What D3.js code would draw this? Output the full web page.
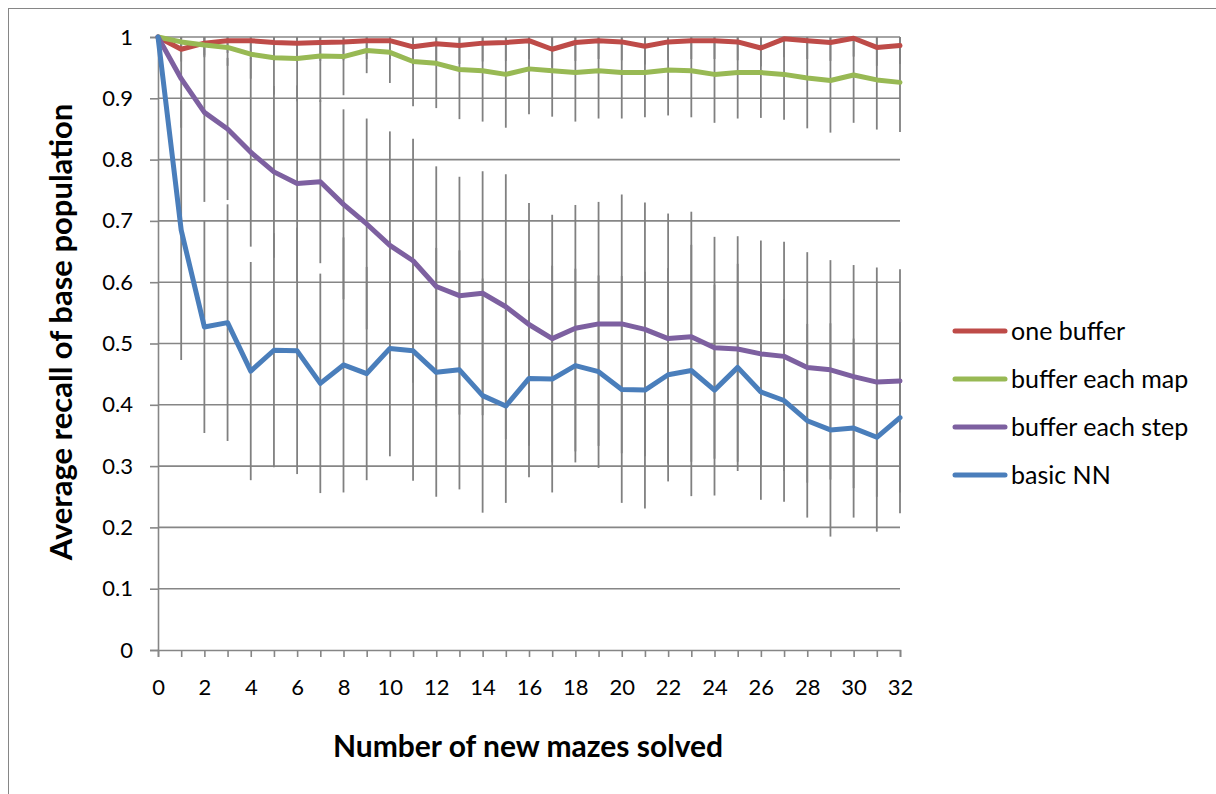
<!DOCTYPE html>
<html>
<head>
<meta charset="utf-8">
<script src="https://cdn.jsdelivr.net/npm/d3@7/dist/d3.min.js"></script>
<style>
  body { margin: 0; background: #ffffff; }
  svg { display: block; }
  text { font-family: Lato, "Open Sans", sans-serif; fill: #000; }
</style>
</head>
<body>
<svg id="chart" width="1216" height="794"></svg>
<script>
// ---------------- data ----------------
const mazesSolved = [0,1,2,3,4,5,6,7,8,9,10,11,12,13,14,15,16,17,18,19,20,21,22,23,24,25,26,27,28,29,30,31,32];

const seriesNames = ["one buffer", "buffer each map", "buffer each step", "basic NN"];
const seriesColors = ["#BE4B48", "#98B954", "#7D60A0", "#4A7EBB"];

const oneBuffer      = [1.000,0.980,0.990,0.994,0.994,0.991,0.990,0.991,0.992,0.994,0.994,0.984,0.989,0.986,0.990,0.991,0.994,0.980,0.991,0.994,0.992,0.985,0.992,0.994,0.994,0.992,0.982,0.997,0.994,0.991,0.998,0.983,0.986];
const bufferEachMap  = [1.000,0.992,0.987,0.983,0.972,0.966,0.965,0.969,0.968,0.978,0.975,0.960,0.957,0.947,0.945,0.939,0.948,0.945,0.942,0.945,0.942,0.942,0.946,0.945,0.939,0.942,0.942,0.939,0.933,0.929,0.938,0.930,0.926];
const bufferEachStep = [1.000,0.932,0.877,0.850,0.812,0.780,0.761,0.764,0.727,0.695,0.660,0.635,0.593,0.578,0.582,0.560,0.531,0.508,0.525,0.532,0.532,0.523,0.508,0.511,0.493,0.491,0.483,0.479,0.461,0.457,0.446,0.437,0.439];
const basicNN        = [1.000,0.685,0.527,0.534,0.455,0.489,0.488,0.435,0.465,0.451,0.492,0.488,0.453,0.457,0.415,0.398,0.443,0.442,0.464,0.454,0.425,0.424,0.449,0.456,0.424,0.461,0.421,0.407,0.374,0.359,0.362,0.347,0.379];

// symmetric error bar half-widths
const oneBufferErr      = [0,0.02,0.02,0.02,0.03,0.03,0.03,0.03,0.03,0.03,0.03,0.03,0.03,0.03,0.03,0.03,0.03,0.03,0.03,0.03,0.03,0.03,0.03,0.03,0.03,0.03,0.03,0.03,0.03,0.03,0.03,0.03,0.03];
const bufferEachMapErr  = [0,0.01,0.02,0.03,0.04,0.06,0.07,0.075,0.063,0.037,0.050,0.073,0.073,0.081,0.083,0.087,0.074,0.075,0.080,0.078,0.075,0.073,0.074,0.076,0.079,0.075,0.074,0.074,0.082,0.085,0.078,0.081,0.081];
const bufferEachStepErr = [0,0.08,0.146,0.116,0.154,0.140,0.160,0.133,0.155,0.172,0.186,0.199,0.196,0.194,0.199,0.216,0.198,0.202,0.201,0.199,0.211,0.207,0.204,0.204,0.181,0.184,0.185,0.187,0.188,0.179,0.182,0.187,0.182];
const basicNNErr        = [0,0.212,0.173,0.193,0.178,0.191,0.201,0.179,0.208,0.174,0.176,0.212,0.203,0.195,0.191,0.158,0.161,0.185,0.158,0.157,0.185,0.193,0.174,0.205,0.172,0.169,0.176,0.165,0.158,0.174,0.146,0.154,0.156];

const yTickValues = [0,0.1,0.2,0.3,0.4,0.5,0.6,0.7,0.8,0.9,1];
const yTickLabels = ["0","0.1","0.2","0.3","0.4","0.5","0.6","0.7","0.8","0.9","1"];
const xLabelValues = [0,2,4,6,8,10,12,14,16,18,20,22,24,26,28,30,32];

const xTitle = "Number of new mazes solved";
const yTitle = "Average recall of base population";

// ---------------- build ----------------
const seriesValues = [oneBuffer, bufferEachMap, bufferEachStep, basicNN];
const seriesErrs = [oneBufferErr, bufferEachMapErr, bufferEachStepErr, basicNNErr];
const series = seriesNames.map((name, k) => ({
  name, color: seriesColors[k],
  points: mazesSolved.map((m, i) => ({ x: m, v: seriesValues[k][i], e: seriesErrs[k][i] }))
}));

const svg = d3.select("#chart");
const GRID = "#868686";

// outer chart frame
svg.append("rect").attr("x", 8.5).attr("y", 8.5).attr("width", 1400).attr("height", 1000)
  .attr("fill", "none").attr("stroke", GRID).attr("stroke-width", 1);

const x = d3.scaleLinear().domain([0, 32]).range([158, 900]);
const y = d3.scaleLinear().domain([0, 1]).range([650, 37]);

svg.append("defs").append("clipPath").attr("id", "plotclip")
  .append("rect").attr("x", x(0) - 5).attr("y", y(1)).attr("width", x(32) - x(0) + 10).attr("height", y(0) - y(1));

// horizontal gridlines
svg.append("g").selectAll("line").data(yTickValues.filter(d => d > 0)).join("line")
  .attr("x1", x(0)).attr("x2", x(32))
  .attr("y1", d => y(d)).attr("y2", d => y(d))
  .attr("stroke", GRID).attr("stroke-width", 1.6);

// error bars (beneath the lines)
const bars = svg.append("g").attr("clip-path", "url(#plotclip)");
series.forEach(s => {
  bars.append("g").selectAll("line").data(s.points.filter(p => p.e > 0)).join("line")
    .attr("x1", p => x(p.x)).attr("x2", p => x(p.x))
    .attr("y1", p => y(p.v + p.e)).attr("y2", p => y(p.v - p.e))
    .attr("stroke", "#808080").attr("stroke-width", 1.8);
});

// axes
const yAxis = d3.axisLeft(y).tickValues(yTickValues).tickSize(8).tickPadding(17)
  .tickFormat((d, i) => yTickLabels[i]);
const gy = svg.append("g").attr("transform", `translate(${x(0)},0)`).call(yAxis);
gy.select(".domain").attr("stroke", GRID).attr("stroke-width", 1.6);
gy.selectAll(".tick line").attr("stroke", GRID).attr("stroke-width", 1.6);
gy.selectAll(".tick text").attr("font-size", 22).attr("font-family", "Lato").attr("fill", "#000");

const xAxis = d3.axisBottom(x).tickValues(mazesSolved).tickSize(7).tickPadding(22)
  .tickFormat(d => xLabelValues.includes(d) ? String(d) : "");
const gx = svg.append("g").attr("transform", `translate(0,${y(0)})`).call(xAxis);
gx.select(".domain").attr("stroke", GRID).attr("stroke-width", 1.6);
gx.selectAll(".tick line").attr("stroke", GRID).attr("stroke-width", 1.6);
gx.selectAll(".tick text").attr("font-size", 22).attr("font-family", "Lato").attr("fill", "#000");

// series lines
const line = d3.line().x(p => x(p.x)).y(p => y(p.v));
series.forEach(s => {
  svg.append("path").datum(s.points).attr("d", line)
    .attr("fill", "none").attr("stroke", s.color).attr("stroke-width", 5)
    .attr("stroke-linejoin", "round").attr("stroke-linecap", "round");
});

// axis titles
svg.append("text").attr("x", 528).attr("y", 757).attr("text-anchor", "middle")
  .attr("font-size", 30).attr("font-weight", "bold").text(xTitle);
svg.append("text").attr("transform", `translate(72,332) rotate(-90)`).attr("text-anchor", "middle")
  .attr("font-size", 31).attr("font-weight", "bold").text(yTitle);

// legend
const legendRowY = d3.scaleBand().domain(seriesNames).range([307, 499]);
const lg = svg.append("g");
series.forEach(s => {
  const cy = legendRowY(s.name) + legendRowY.bandwidth() / 2;
  lg.append("line").attr("x1", 955).attr("x2", 1005).attr("y1", cy).attr("y2", cy)
    .attr("stroke", s.color).attr("stroke-width", 5).attr("stroke-linecap", "round");
  lg.append("text").attr("x", 1011).attr("y", cy).attr("dy", "0.36em")
    .attr("font-size", 25).text(s.name);
});
</script>
</body>
</html>
